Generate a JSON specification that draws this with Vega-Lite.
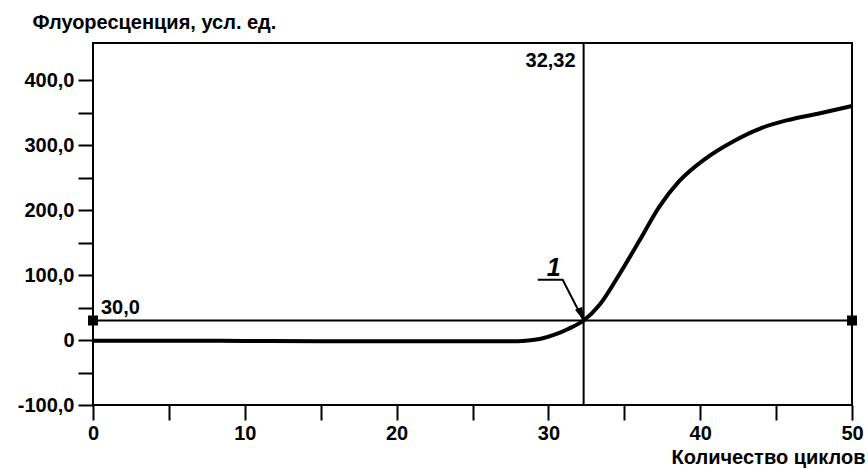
{
  "$schema": "https://vega.github.io/schema/vega-lite/v6.json",
  "width": 759,
  "height": 362,
  "autosize": {"type": "none"},
  "padding": {"left": 93, "top": 43, "right": 16, "bottom": 64},
  "background": "white",
  "config": {
    "view": {"stroke": "black", "strokeWidth": 2},
    "font": "Liberation Sans",
    "axis": {
      "grid": false,
      "domain": false,
      "tickColor": "black",
      "tickWidth": 2,
      "tickSize": 15,
      "labelColor": "black",
      "labelFont": "Liberation Sans",
      "labelFontSize": 20,
      "labelFontWeight": "bold",
      "labelFlush": false,
      "labelOverlap": false,
      "titleColor": "black",
      "titleFont": "Liberation Sans",
      "titleFontSize": 20,
      "titleFontWeight": "bold"
    }
  },
  "datasets": {
    "curve": [
      {"cycle": 0, "fluor": -1},
      {"cycle": 5, "fluor": -1},
      {"cycle": 10, "fluor": -1.5},
      {"cycle": 15, "fluor": -2},
      {"cycle": 20, "fluor": -2},
      {"cycle": 25, "fluor": -2},
      {"cycle": 27.5, "fluor": -2},
      {"cycle": 28.5, "fluor": -1},
      {"cycle": 29.5, "fluor": 2},
      {"cycle": 30.5, "fluor": 9},
      {"cycle": 31.3, "fluor": 17},
      {"cycle": 32.32, "fluor": 30},
      {"cycle": 33.4, "fluor": 55},
      {"cycle": 34.7, "fluor": 102},
      {"cycle": 36, "fluor": 153},
      {"cycle": 37.3, "fluor": 205},
      {"cycle": 38.6, "fluor": 244},
      {"cycle": 40.4, "fluor": 280},
      {"cycle": 42.2, "fluor": 306},
      {"cycle": 43.9, "fluor": 325},
      {"cycle": 45.7, "fluor": 338},
      {"cycle": 47.9, "fluor": 349},
      {"cycle": 50, "fluor": 360}
    ],
    "ends": [
      {"cycle": 0, "fluor": 30},
      {"cycle": 50, "fluor": 30}
    ],
    "leader": [
      {"order": 1, "cycle": 29.3, "fluor": 92.6},
      {"order": 2, "cycle": 30.94, "fluor": 92.6},
      {"order": 3, "cycle": 32.32, "fluor": 30}
    ],
    "tip": [
      {"cycle": 32.32, "fluor": 30}
    ],
    "labels": [
      {"cycle": 0, "fluor": 30, "text": "30,0"}
    ],
    "ctlabel": [
      {"cycle": 32.32, "fluor": 420, "text": "32,32"}
    ],
    "num": [
      {"cycle": 30.35, "fluor": 99, "text": "1"}
    ]
  },
  "encoding": {
    "x": {
      "field": "cycle",
      "type": "quantitative",
      "scale": {"domain": [0, 50], "nice": false, "zero": false},
      "axis": {
        "values": [0, 5, 10, 15, 20, 25, 30, 35, 40, 45, 50],
        "labelExpr": "datum.value % 10 == 0 ? datum.label : ''",
        "labelPadding": 3,
        "title": "Количество циклов",
        "titleAnchor": "end",
        "titleAlign": "right",
        "titleX": 772,
        "titleY": 58,
        "titleBaseline": "alphabetic",
        "titlePadding": 0
      }
    },
    "y": {
      "field": "fluor",
      "type": "quantitative",
      "scale": {"domain": [-100, 457], "nice": false, "zero": false},
      "axis": {
        "values": [-100, -50, 0, 50, 100, 150, 200, 250, 300, 350, 400],
        "labelExpr": "datum.value % 100 != 0 ? '' : (datum.value == 0 ? '0' : replace(replace(format(datum.value, '.1f'), '.', ','), '\u2212', '-'))",
        "labelPadding": 4,
        "title": "Флуоресценция, усл. ед.",
        "titleAngle": 0,
        "titleAlign": "left",
        "titleBaseline": "alphabetic",
        "titleX": -61,
        "titleY": -15
      }
    }
  },
  "layer": [
    {
      "data": {"name": "curve"},
      "mark": {"type": "line", "color": "black", "strokeWidth": 4, "interpolate": "monotone"}
    },
    {
      "data": {"values": [{"v": 30}]},
      "mark": {"type": "rule", "color": "black", "strokeWidth": 2},
      "encoding": {"y": {"field": "v", "type": "quantitative"}, "x": null}
    },
    {
      "data": {"values": [{"v": 32.32}]},
      "mark": {"type": "rule", "color": "black", "strokeWidth": 2},
      "encoding": {"x": {"field": "v", "type": "quantitative"}, "y": null}
    },
    {
      "data": {"name": "ends"},
      "mark": {"type": "point", "shape": "square", "filled": true, "color": "black", "opacity": 1, "size": 100}
    },
    {
      "data": {"name": "leader"},
      "mark": {"type": "line", "color": "black", "strokeWidth": 2},
      "encoding": {"order": {"field": "order", "type": "quantitative"}}
    },
    {
      "data": {"name": "tip"},
      "mark": {"type": "point", "shape": "M0,0L-0.3,-1L0.3,-1Z", "filled": true, "color": "black", "opacity": 1, "size": 700, "angle": -22}
    },
    {
      "data": {"name": "labels"},
      "mark": {"type": "text", "align": "left", "baseline": "alphabetic", "dx": 8, "dy": -7, "fontSize": 20, "fontWeight": "bold", "color": "black", "font": "Liberation Sans"},
      "encoding": {"text": {"field": "text"}}
    },
    {
      "data": {"name": "ctlabel"},
      "mark": {"type": "text", "align": "right", "baseline": "alphabetic", "dx": -8, "fontSize": 20, "fontWeight": "bold", "color": "black", "font": "Liberation Sans"},
      "encoding": {"text": {"field": "text"}}
    },
    {
      "data": {"name": "num"},
      "mark": {"type": "text", "align": "center", "baseline": "alphabetic", "fontSize": 25, "fontStyle": "italic", "fontWeight": "bold", "color": "black", "font": "Liberation Sans"},
      "encoding": {"text": {"field": "text"}}
    }
  ]
}
